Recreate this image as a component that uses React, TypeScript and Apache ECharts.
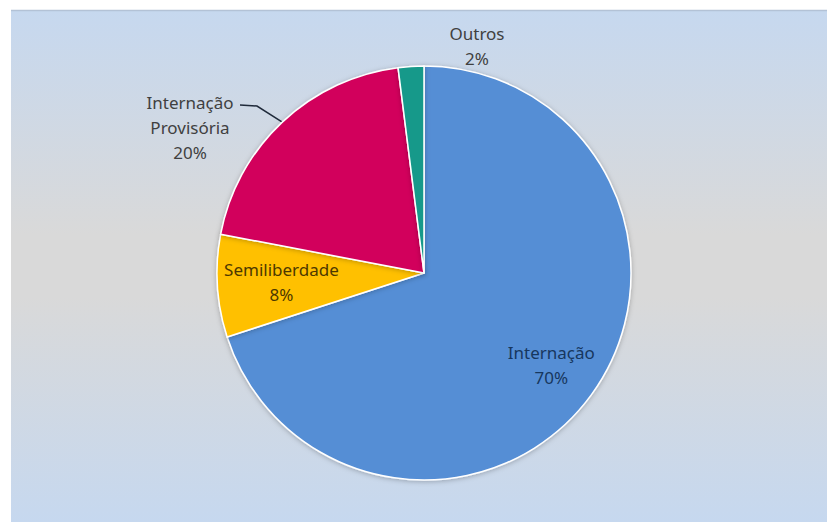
import React, { useEffect, useRef } from "react";
import * as echarts from "echarts";

const categories = ["Internação", "Semiliberdade", "Internação Provisória", "Outros"];
const values = [70, 8, 20, 2];
const colors = ["#558ed5", "#ffc000", "#d2045c", "#16998a"];
const labelColors = ["#17375e", "#4d3800", "#404040", "#404040"];

const W = 827;
const H = 522;
const CX = 424;
const CY = 273;
const R = 207;

export default function App() {
  const ref = useRef<HTMLDivElement>(null);
  useEffect(() => {
    document.body.style.margin = "0";
    const chart = echarts.init(ref.current!, undefined, { renderer: "svg" });
    const total = values.reduce((a, b) => a + b, 0);
    const mids: number[] = [];
    let acc = 0;
    values.forEach((v) => {
      mids.push(((acc + v / 2) / total) * Math.PI * 2);
      acc += v;
    });
    const polar = (ang: number, r: number) => [CX + r * Math.sin(ang), CY - r * Math.cos(ang)];
    const insideFrac = [0.76, 0.69];

    chart.setOption({
      animation: false,
      graphic: [
        {
          type: "rect",
          shape: { x: 11, y: 10, width: W - 11, height: H - 10 },
          style: {
            fill: new echarts.graphic.LinearGradient(0, 0, 0, 1, [
              { offset: 0, color: "#c6d8ef" },
              { offset: 0.44, color: "#d9d9d9" },
              { offset: 0.56, color: "#d9d9d9" },
              { offset: 1, color: "#c6d8ef" },
            ]),
          },
          z: -10,
        },
        {
          type: "line",
          shape: { x1: 11, y1: 10.5, x2: W, y2: 10.5 },
          style: { stroke: "#b3c2d6", lineWidth: 1.5 },
          z: -9,
        },
      ],
      series: [
        {
          type: "pie",
          center: [CX, CY],
          radius: [0, R],
          startAngle: 90,
          clockwise: true,
          itemStyle: {
            borderColor: "#ffffff",
            borderWidth: 1.5,
            shadowBlur: 5,
            shadowColor: "rgba(0,0,0,0.25)",
            shadowOffsetY: 1,
          },
          label: {
            show: true,
            position: "outside",
            fontFamily: "Noto Sans",
            fontSize: 17,
            lineHeight: 25,
            align: "center",
            formatter: (p: any) => p.name.replace(" ", "\n") + "\n" + p.value + "%",
          },
          labelLine: { show: true, lineStyle: { color: "#1f2a3a", width: 1.5 } },
          labelLayout: (p: any) => {
            const i = p.dataIndex;
            if (i < 2) {
              const [x, y] = polar(mids[i], R * insideFrac[i]);
              return { x, y, align: "center", verticalAlign: "middle", labelLinePoints: [[x, y], [x, y], [x, y]] };
            }
            if (i === 3) {
              const x = CX + 53;
              const y = CY - 227;
              return { x, y, align: "center", verticalAlign: "middle", labelLinePoints: [[x, y], [x, y], [x, y]] };
            }
            const x = CX - 234;
            const y = CY - 146;
            const edge = polar(mids[i], R);
            return {
              x,
              y,
              align: "center",
              verticalAlign: "middle",
              labelLinePoints: [edge, [x + 67, y - 21], [x + 50, y - 22]],
            };
          },
          data: categories.map((name, i) => ({
            name,
            value: values[i],
            itemStyle: { color: colors[i] },
            label: { color: labelColors[i] },
            labelLine: { show: i === 2 },
          })),
        },
      ],
    });
    return () => chart.dispose();
  }, []);
  return <div ref={ref} style={{ width: W, height: H }} />;
}
